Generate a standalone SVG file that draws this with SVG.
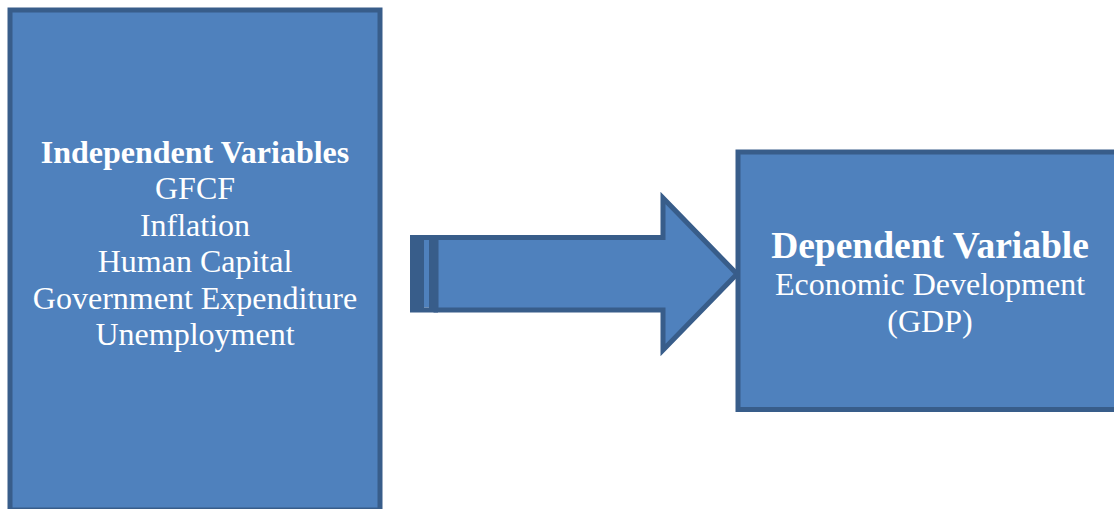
<svg xmlns="http://www.w3.org/2000/svg" width="1114" height="509" viewBox="0 0 1114 509">
  <style>
    .box { fill: #4F81BD; stroke: #385D8A; stroke-width: 5; }
    .dark { fill: #385D8A; }
    .light { fill: #4F81BD; }
    .txt { font-family: "Liberation Serif", "Times New Roman", serif; fill: #FFFFFF; text-anchor: middle; }
    .bold { font-weight: bold; }
  </style>
  <rect width="1114" height="509" fill="#FFFFFF"/>

  <g id="independent-variables">
    <rect class="box" x="10" y="10" width="370" height="500"/>
    <text class="txt bold" x="195" y="163" font-size="32">Independent Variables</text>
    <text class="txt" x="195" y="199" font-size="32">GFCF</text>
    <text class="txt" x="195" y="235.5" font-size="32">Inflation</text>
    <text class="txt" x="195" y="272" font-size="32">Human Capital</text>
    <text class="txt" x="195" y="308.5" font-size="32">Government Expenditure</text>
    <text class="txt" x="195" y="345" font-size="32">Unemployment</text>
  </g>

  <g id="connectors">
    <!-- striped block arrow -->
    <path class="box" d="M436,237.5 L663,237.5 L663,198 L737,274 L663,350 L663,310 L436,310 Z" stroke-linejoin="miter"/>
    <rect class="dark" x="410" y="235" width="14" height="77.5"/>
    <rect class="light" x="424" y="240" width="5" height="67.5"/>
    <rect class="dark" x="424" y="235" width="5" height="5"/>
    <rect class="dark" x="424" y="307.5" width="5" height="5"/>
    <rect class="dark" x="429" y="235" width="9" height="77.5"/>
  </g>

  <g id="dependent-variable">
    <rect class="box" x="738" y="152" width="400" height="257.5"/>
    <text class="txt bold" x="930" y="257.5" font-size="37.5">Dependent Variable</text>
    <text class="txt" x="930" y="294.5" font-size="32">Economic Development</text>
    <text class="txt" x="930" y="332" font-size="32">(GDP)</text>
  </g>
</svg>
